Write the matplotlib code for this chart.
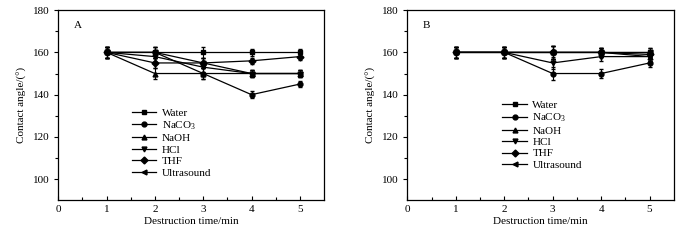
import matplotlib
matplotlib.use("Agg")
import matplotlib.pyplot as plt

plt.rcParams['font.family'] = ['Liberation Serif', 'DejaVu Serif']
plt.rcParams['mathtext.fontset'] = 'custom'
plt.rcParams['mathtext.rm'] = 'Liberation Serif'
plt.rcParams['mathtext.it'] = 'Liberation Serif'

# data
times = [1, 2, 3, 4, 5]
labels = ["Water", "NaCO$_3$", "NaOH", "HCl", "THF", "Ultrasound"]
markers = ["s", "o", "^", "v", "D", "<"]

# panel A
a_water = [160, 160, 160, 160, 160]
a_naco3 = [160, 160, 150, 140, 145]
a_naoh = [160, 150, 150, 150, 150]
a_hcl = [160, 158, 153, 150, 150]
a_thf = [160, 155, 155, 156, 158]
a_ultra = [160, 160, 155, 150, 150]
a_err = [2.5, 2.5, 2.5, 1.5, 1.5]

# panel B
b_water = [160, 160, 160, 160, 160]
b_naco3 = [160, 160, 150, 150, 155]
b_naoh = [160, 160, 160, 160, 158]
b_hcl = [160, 160, 155, 158, 158]
b_thf = [160, 160, 160, 160, 159]
b_ultra = [160, 160, 160, 160, 160]
b_err = [2.5, 2.5, 3.0, 2.0, 2.0]

fig = plt.figure(figsize=(7, 2.4), dpi=100)
ax_a = fig.add_axes([0.0833, 0.165, 0.3795, 0.793])
ax_b = fig.add_axes([0.582, 0.165, 0.3805, 0.793])


def draw_panel(ax, series, err, tag, leg_xy):
    handles = []
    for vals, mk in zip(series, markers):
        eb = ax.errorbar(times, vals, yerr=err, color='black', lw=0.9,
                         marker=mk, ms=3.5, capsize=1.5, elinewidth=0.8)
        handles.append(eb[0])  # only the line goes in the legend
    ax.set_xlim(0, 5.5)
    ax.set_ylim(90, 180)
    ax.set_xticks([0, 1, 2, 3, 4, 5])
    ax.set_xticks([0.5, 1.5, 2.5, 3.5, 4.5], minor=True)
    ax.set_yticks([100, 120, 140, 160, 180])
    ax.set_yticks([110, 130, 150, 170], minor=True)
    ax.tick_params(axis='x', which='both', direction='in', labelsize=8)
    ax.tick_params(axis='y', which='both', direction='out', labelsize=8)
    ax.tick_params(which='major', length=3, width=0.8)
    ax.tick_params(which='minor', length=2, width=0.8)
    for sp in ax.spines.values():
        sp.set_linewidth(0.9)
    ax.set_xlabel("Destruction time/min", fontsize=8, labelpad=2)
    ax.set_ylabel("Contact angle/(°)", fontsize=8, labelpad=4)
    ax.text(0.4, 172.5, tag, fontsize=8, ha='center', va='center')
    ax.legend(handles, labels, loc='upper left', bbox_to_anchor=leg_xy,
              frameon=False, fontsize=8, labelspacing=0.15,
              handlelength=2.2, handletextpad=0.5, borderaxespad=0)


draw_panel(ax_a, [a_water, a_naco3, a_naoh, a_hcl, a_thf, a_ultra], a_err,
           "A", (0.26, 0.51))
draw_panel(ax_b, [b_water, b_naco3, b_naoh, b_hcl, b_thf, b_ultra], b_err,
           "B", (0.34, 0.55))

fig.savefig("out.png", dpi=100)
plt.close(fig)
